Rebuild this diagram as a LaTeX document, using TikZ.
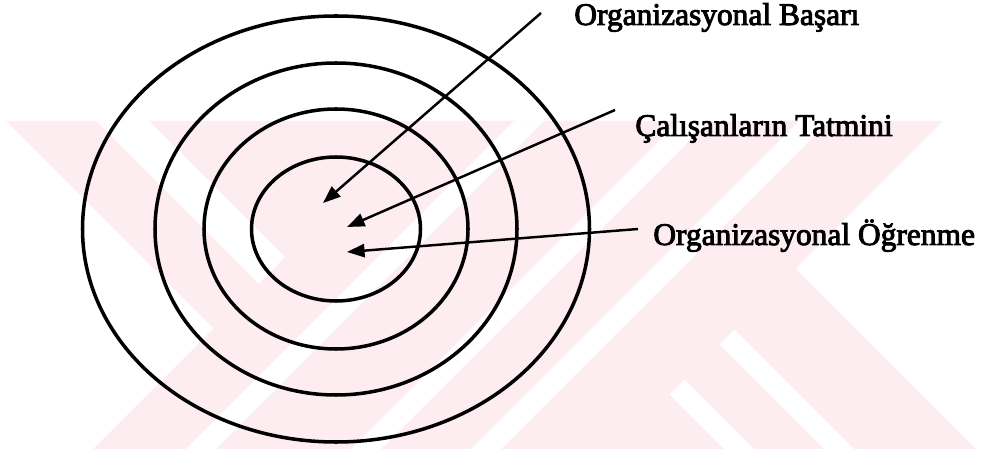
\documentclass[tikz,border=0pt]{standalone}
\usepackage{fontspec}
\setmainfont{Liberation Serif}
\newfontfamily\taramafont[FakeBold=3]{Liberation Serif}
\usepackage{tikz}
\usetikzlibrary{arrows.meta,calc}
\definecolor{filigranpembe}{RGB}{253,236,240}

\begin{document}
\begin{tikzpicture}[
  x=0.02cm,y=-0.02cm,
  >={Triangle[length=10pt,width=7.5pt]},
  every node/.style={font=\taramafont\fontsize{17.9}{20}\selectfont},
  halka/.style={draw,line width=2pt},
  ok/.style={->,line width=1.4pt},
  etiket/.style={anchor=base west,inner sep=0pt},
  filigran/.style={fill=filigranpembe,draw=none}
]
\useasboundingbox (0,0) rectangle (984,449);

%% faint background stamp
\begin{scope}
  \clip (0,121) rectangle (984,449);
  \fill[filigran] (6,121) -- (648,121) -- (976,449) -- (334,449) -- cycle;
  \fill[filigran] (421,121) -- (943,121) -- (615,449) -- (93,449) -- cycle;
  \fill[white] (96,121) -- (149,121) -- (285,257) -- (258.5,283.5) -- cycle;
  \foreach \c in {635,800,920}
    \fill[white] (\c-121,121) -- (\c+30-121,121) -- (\c+30-449,449) -- (\c-449,449) -- cycle;
  \fill[white] (734.5,329.5) -- (854,449) -- (824,449) -- (719.5,344.5) -- cycle;
  \fill[white] (684.5,379.5) -- (754,449) -- (724,449) -- (669.5,394.5) -- cycle;
\end{scope}

%% rings
\coordinate (merkez) at (336,229);
\draw[halka] (merkez) ellipse [x radius=253.5,y radius=213];
\draw[halka] (merkez) ellipse [x radius=181,y radius=166];
\draw[halka] (merkez) ellipse [x radius=132,y radius=120];
\draw[halka] (merkez) ellipse [x radius=84.5,y radius=72];

%% labels
\node[etiket] (basari)  at (574,25)  {Organizasyonal Başarı};
\node[etiket] (tatmin)  at (635,136) {Çalışanların Tatmini};
\node[etiket] (ogrenme) at (653,245) {Organizasyonal Öğrenme};

%% arrow tips
\coordinate (uc1) at (323,203);
\coordinate (uc2) at (347,227);
\coordinate (uc3) at (347,252);

%% arrows
\draw[ok] ($(basari.base west)+(-33,-12)$)  -- (uc1);
\draw[ok] ($(tatmin.base west)+(-20,-26)$)  -- (uc2);
\draw[ok] ($(ogrenme.base west)+(-15,-16)$) -- (uc3);

\end{tikzpicture}
\end{document}
